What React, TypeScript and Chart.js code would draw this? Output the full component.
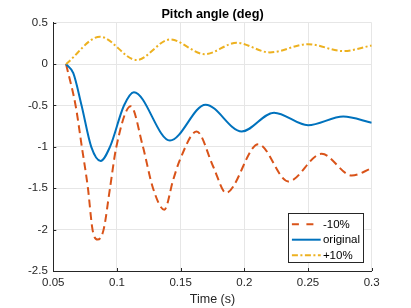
import React, { useEffect, useRef } from 'react';
import { Chart, registerables } from 'chart.js';

Chart.register(...registerables);

// ---- Data ----
const timeMinus10 = [0.06, 0.0675, 0.0724, 0.0772, 0.0808, 0.0848, 0.0895, 0.0945, 0.0995, 0.1108, 0.1204, 0.1283, 0.1372, 0.1441, 0.1494, 0.1626, 0.1756, 0.1856, 0.211, 0.2345, 0.2607, 0.2843, 0.3];
const pitchMinus10 = [0, -0.5, -1.0, -1.5, -2.0, -2.12, -2.0, -1.5, -1.0, -0.51, -1.0, -1.5, -1.76, -1.4, -1.157, -0.815, -1.24, -1.555, -0.968, -1.418, -1.084, -1.346, -1.26];

const timeOriginal = [0.06, 0.0657, 0.0722, 0.0798, 0.0872, 0.0945, 0.1055, 0.1133, 0.1416, 0.1696, 0.1979, 0.2233, 0.25, 0.2777, 0.3];
const pitchOriginal = [0, -0.11, -0.5, -1.0, -1.17, -1.0, -0.5, -0.34, -0.924, -0.49, -0.815, -0.587, -0.739, -0.634, -0.71];

const timePlus10 = [0.06, 0.0867, 0.1155, 0.1416, 0.169, 0.194, 0.22, 0.25, 0.2777, 0.3];
const pitchPlus10 = [0, 0.33, 0.05, 0.297, 0.12, 0.257, 0.141, 0.241, 0.157, 0.225];

const seriesLabels = ['-10%', 'original', '+10%'];
const seriesColors = ['#D95319', '#0072BD', '#EDB120'];

const xTickValues = [0.05, 0.1, 0.15, 0.2, 0.25, 0.3];
const yTickValues = [-2.5, -2, -1.5, -1, -0.5, 0, 0.5];

const chartTitle = 'Pitch angle (deg)';
const xAxisLabel = 'Time (s)';

const FONT = '"Liberation Sans", Arial, Helvetica, sans-serif';
const AXIS_COLOR = '#262626';

const toPoints = (xs: number[], ys: number[]) => xs.map((x, i) => ({ x, y: ys[i] }));
const fmt = (v: number) => String(Number(Number(v).toFixed(2)));

const legendDashes: number[][] = [[7, 7.5], [], [6, 2.5, 2, 2.5]];

const overlayPlugin = {
  id: 'overlay',
  afterDraw(chart: any) {
    const { ctx, chartArea: ca, scales } = chart;
    const xs = scales.x;
    const ys = scales.y;
    ctx.save();
    // inward tick marks
    ctx.strokeStyle = AXIS_COLOR;
    ctx.lineWidth = 1;
    xTickValues.forEach((v) => {
      const px = Math.round(xs.getPixelForValue(v)) + 0.5;
      ctx.beginPath();
      ctx.moveTo(px, ca.bottom);
      ctx.lineTo(px, ca.bottom - 3);
      ctx.stroke();
    });
    yTickValues.forEach((v) => {
      const py = Math.round(ys.getPixelForValue(v)) + 0.5;
      ctx.beginPath();
      ctx.moveTo(ca.left, py);
      ctx.lineTo(ca.left + 3, py);
      ctx.stroke();
    });

    // title
    const cx = (ca.left + ca.right) / 2;
    ctx.fillStyle = '#000000';
    ctx.font = `bold 12.7px ${FONT}`;
    ctx.textAlign = 'center';
    ctx.textBaseline = 'middle';
    ctx.fillText(chartTitle, cx, 14);

    // x-axis label
    ctx.fillStyle = AXIS_COLOR;
    ctx.font = `12.5px ${FONT}`;
    ctx.fillText(xAxisLabel, cx, 299.5);

    // legend
    const boxW = 75;
    const boxH = 49;
    const bx = Math.round(ca.right - 8.4 - boxW) + 0.5;
    const by = Math.round(ca.bottom - 8.7 - boxH) + 0.5;
    ctx.fillStyle = '#ffffff';
    ctx.fillRect(bx, by, boxW, boxH);
    ctx.strokeStyle = AXIS_COLOR;
    ctx.lineWidth = 1;
    ctx.setLineDash([]);
    ctx.strokeRect(bx, by, boxW, boxH);
    const rows = [10.7, 26.2, 41.7];
    ctx.font = `11.5px ${FONT}`;
    ctx.textAlign = 'left';
    ctx.textBaseline = 'middle';
    seriesLabels.forEach((lab, i) => {
      const y = by + rows[i];
      ctx.strokeStyle = seriesColors[i];
      ctx.lineWidth = 2;
      ctx.setLineDash(legendDashes[i]);
      ctx.beginPath();
      ctx.moveTo(bx + 3.4, y);
      ctx.lineTo(bx + 32.2, y);
      ctx.stroke();
      ctx.setLineDash([]);
      ctx.fillStyle = '#000000';
      ctx.fillText(lab, bx + 34.4, y + 0.5);
    });
    ctx.restore();
  },
};

export default function App() {
  const canvasRef = useRef<HTMLCanvasElement | null>(null);

  useEffect(() => {
    document.body.style.margin = '0';
    const canvas = canvasRef.current;
    if (!canvas) return;
    const chart = new Chart(canvas, {
      type: 'line',
      data: {
        datasets: [
          {
            label: seriesLabels[0],
            data: toPoints(timeMinus10, pitchMinus10),
            borderColor: seriesColors[0],
            borderWidth: 2,
            borderDash: [8, 4.5],
            order: 3,
          },
          {
            label: seriesLabels[1],
            data: toPoints(timeOriginal, pitchOriginal),
            borderColor: seriesColors[1],
            borderWidth: 2,
            order: 2,
          },
          {
            label: seriesLabels[2],
            data: toPoints(timePlus10, pitchPlus10),
            borderColor: seriesColors[2],
            borderWidth: 2,
            borderDash: [6, 2.5, 2, 2.5],
            order: 1,
          },
        ],
      },
      options: {
        responsive: false,
        animation: false,
        parsing: true,
        elements: {
          point: { radius: 0, hoverRadius: 0 },
          line: { cubicInterpolationMode: 'monotone', fill: false, borderCapStyle: 'butt' },
        },
        layout: { padding: { top: 22.7, right: 39.3, bottom: 0, left: 0 } },
        plugins: {
          legend: { display: false },
          title: { display: false },
          tooltip: { enabled: false },
        },
        scales: {
          x: {
            type: 'linear',
            min: 0.05,
            max: 0.3,
            afterBuildTicks: (s: any) => {
              s.ticks = xTickValues.map((v) => ({ value: v }));
            },
            afterFit: (s: any) => {
              s.height = 37;
            },
            ticks: {
              callback: (v: any) => fmt(v),
              color: AXIS_COLOR,
              font: { family: FONT, size: 11.5 },
              padding: 5,
              maxRotation: 0,
              autoSkip: false,
            },
            grid: { color: '#e6e6e6', drawTicks: false, lineWidth: 1 },
            border: { display: true, color: AXIS_COLOR, width: 1 },
          },
          y: {
            type: 'linear',
            min: -2.5,
            max: 0.5,
            afterBuildTicks: (s: any) => {
              s.ticks = yTickValues.map((v) => ({ value: v }));
            },
            afterFit: (s: any) => {
              s.width = 53.3;
            },
            ticks: {
              callback: (v: any) => fmt(v),
              color: AXIS_COLOR,
              font: { family: FONT, size: 11.5 },
              padding: 5.5,
              autoSkip: false,
            },
            grid: { color: '#e6e6e6', drawTicks: false, lineWidth: 1 },
            border: { display: true, color: AXIS_COLOR, width: 1 },
          },
        },
      },
      plugins: [overlayPlugin],
    });
    return () => chart.destroy();
  }, []);

  return (
    <div style={{ position: 'fixed', left: 0, top: 0, width: 411, height: 308, background: '#ffffff' }}>
      <canvas ref={canvasRef} width={411} height={308} style={{ width: 411, height: 308, display: 'block' }} />
    </div>
  );
}
